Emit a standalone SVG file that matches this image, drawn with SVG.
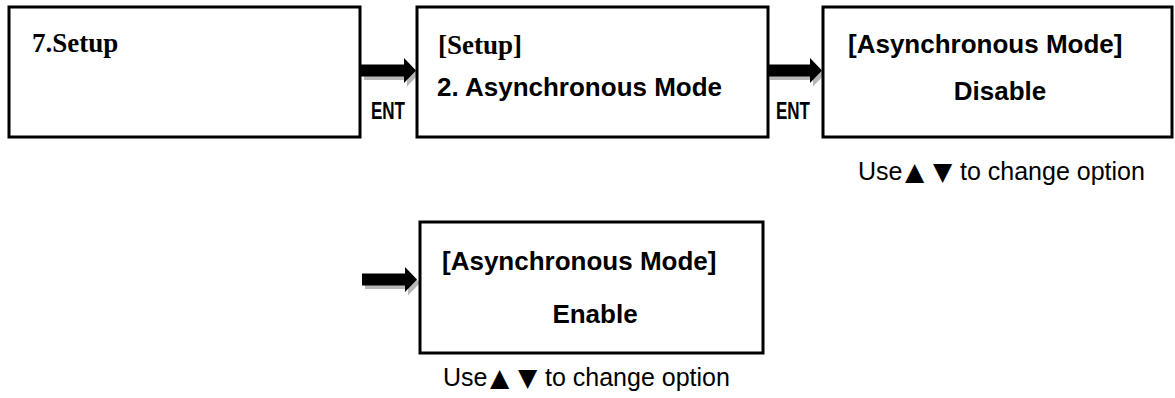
<svg xmlns="http://www.w3.org/2000/svg" width="1175" height="398" viewBox="0 0 1175 398">
  <style>
    .box { fill: #ffffff; stroke: #000000; stroke-width: 3; }
    .serif { font-family: "Liberation Serif", "Times New Roman", serif; font-weight: bold; font-size: 27px; fill: #000; }
    .sans { font-family: "Liberation Sans", Arial, sans-serif; font-weight: bold; font-size: 26px; fill: #000; }
    .key { font-family: "Liberation Sans Narrow", "Liberation Sans", Arial, sans-serif; font-weight: bold; font-size: 23px; fill: #000; }
    .hint { font-family: "Liberation Sans", "DejaVu Sans", Arial, sans-serif; font-size: 25px; fill: #000; }
    .tri { font-family: "DejaVu Sans", "Liberation Sans", sans-serif; font-size: 25px; }
    .arrow { fill: #000000; }
    .shadow { fill: #b8b8b8; }
  </style>
  <defs>
    <!-- block arrow pointing right, tip at (0,0) -->
    <polygon id="blockArrow" points="-55,-6 -12,-6 -12,-12.5 0,0 -12,12.5 -12,6 -55,6"/>
  </defs>

  <rect width="1175" height="398" fill="#ffffff"/>

  <!-- connectors -->
  <g id="connectors">
    <g id="arrow-setup-to-menu">
      <use href="#blockArrow" class="shadow" transform="translate(419,74)"/>
      <use href="#blockArrow" class="arrow" transform="translate(416,70.5)"/>
      <text class="key" x="371" y="119" textLength="34" lengthAdjust="spacingAndGlyphs">ENT</text>
    </g>
    <g id="arrow-menu-to-disable">
      <use href="#blockArrow" class="shadow" transform="translate(825,74)"/>
      <use href="#blockArrow" class="arrow" transform="translate(822,70.5)"/>
      <text class="key" x="776" y="119" textLength="34" lengthAdjust="spacingAndGlyphs">ENT</text>
    </g>
    <g id="arrow-to-enable">
      <use href="#blockArrow" class="shadow" transform="translate(420,283)"/>
      <use href="#blockArrow" class="arrow" transform="translate(417,279.5)"/>
    </g>
  </g>

  <!-- node: main menu item -->
  <g id="node-setup">
    <rect class="box" x="9" y="7" width="351" height="130"/>
    <text class="serif" x="32" y="52">7.Setup</text>
  </g>

  <!-- node: setup submenu -->
  <g id="node-setup-menu">
    <rect class="box" x="417" y="7" width="351" height="130"/>
    <text class="serif" x="438" y="54">[Setup]</text>
    <text class="sans" x="437" y="96">2. Asynchronous Mode</text>
  </g>

  <!-- node: asynchronous mode, disabled -->
  <g id="node-disable">
    <rect class="box" x="823" y="7" width="349" height="130"/>
    <text class="sans" x="848" y="53">[Asynchronous Mode]</text>
    <text class="sans" x="1000" y="100" text-anchor="middle">Disable</text>
    <text class="hint" y="180"><tspan x="858">Use</tspan><tspan class="tri" x="905">▲</tspan><tspan class="tri" x="933">▼</tspan><tspan x="960">to change option</tspan></text>
  </g>

  <!-- node: asynchronous mode, enabled -->
  <g id="node-enable">
    <rect class="box" x="420" y="222" width="343" height="131"/>
    <text class="sans" x="442" y="270">[Asynchronous Mode]</text>
    <text class="sans" x="595" y="323" text-anchor="middle">Enable</text>
    <text class="hint" y="386"><tspan x="443">Use</tspan><tspan class="tri" x="490">▲</tspan><tspan class="tri" x="518">▼</tspan><tspan x="545">to change option</tspan></text>
  </g>
</svg>
